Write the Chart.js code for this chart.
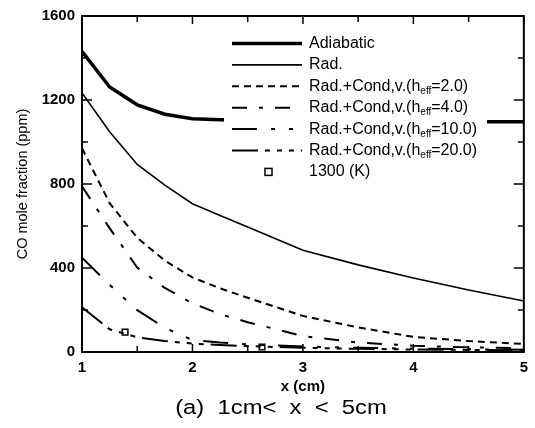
<!DOCTYPE html>
<html>
<head>
<meta charset="utf-8">
<script src="https://cdn.jsdelivr.net/npm/chart.js@4.4.1/dist/chart.umd.min.js"></script>
<style>
  html, body { margin: 0; padding: 0; background: #fff; }
  #wrap { position: relative; width: 535px; height: 428px; }
  #caption {
    position: absolute; left: 0; top: 396px; width: 562px;
    text-align: center; white-space: pre;
    font: 20px "Liberation Sans", Arial, sans-serif; color: #000;
    transform: scaleX(1.19); transform-origin: 281px 50%;
  }
</style>
</head>
<body>
<div id="wrap">
  <canvas id="chart" width="535" height="428"></canvas>
  <div id="caption">(a)  1cm&lt;  x  &lt;  5cm</div>
</div>
<script>
// x positions (cm) and CO mole fraction (ppm)
const xs = [1, 1.25, 1.5, 1.75, 2, 2.25, 2.5, 3, 3.5, 4, 4.5, 5];
const adiabatic = [1432, 1262, 1177, 1132, 1111, 1106, 1103, 1100, 1099, 1098, 1097, 1097];
const rad       = [1234, 1049, 893, 795, 706, 650, 595, 485, 415, 352, 295, 243];
const heff2     = [970, 709, 544, 435, 355, 303, 258, 172, 117, 72, 52, 38];
const heff4     = [789, 590, 402, 305, 232, 180, 142, 76, 45, 30, 22, 18];
const heff10    = [449, 320, 199, 115, 57, 45, 36, 26, 20, 16, 13, 11];
const heff20    = [213, 108, 70, 52, 40, 33, 28, 20, 15, 12, 10, 8];

// 1300 K points
const markX = [1.39, 2.63];
const markY = [95, 24];

const yTicks = [0, 400, 800, 1200, 1600];
const xTicks = [1, 2, 3, 4, 5];

const labels = [
  'Adiabatic',
  'Rad.',
  'Rad.+Cond,v.(h_eff=2.0)',
  'Rad.+Cond,v.(h_eff=4.0)',
  'Rad.+Cond,v.(h_eff=10.0)',
  'Rad.+Cond,v.(h_eff=20.0)',
  '1300 (K)'
];

const FONT = '"Liberation Sans", Arial, sans-serif';
Chart.defaults.font.family = FONT;
Chart.defaults.color = '#000';

const pts = arr => xs.map((x, i) => ({ x: x, y: arr[i] }));

function lineSet(label, arr, width, dash) {
  return {
    label: label,
    data: pts(arr),
    borderColor: '#000',
    borderWidth: width,
    borderDash: dash,
    pointRadius: 0,
    tension: 0,
    fill: false,
    showLine: true
  };
}

// legend drawn inside the plot, white box hides what is behind it
const boxLegend = {
  id: 'boxLegend',
  afterDatasetsDraw(chart) {
    const ctx = chart.ctx;
    const a = chart.chartArea;
    const x0 = a.left + 142;
    ctx.save();
    ctx.fillStyle = '#fff';
    ctx.fillRect(x0, 31, 263, 153);
    chart.data.datasets.forEach((ds, i) => {
      const y = 43.5 + i * 21.4;
      ctx.strokeStyle = '#000';
      if (ds.showLine) {
        ctx.lineWidth = ds.borderWidth;
        ctx.setLineDash(ds.borderDash || []);
        ctx.beginPath();
        ctx.moveTo(x0 + 8, y);
        ctx.lineTo(x0 + 78, y);
        ctx.stroke();
      } else {
        ctx.setLineDash([]);
        ctx.lineWidth = 1.5;
        ctx.fillStyle = '#fff';
        ctx.fillRect(x0 + 41, y - 3.5, 7, 7);
        ctx.strokeRect(x0 + 41, y - 3.5, 7, 7);
      }
      ctx.fillStyle = '#000';
      ctx.textBaseline = 'middle';
      const parts = ds.label.split('_eff');
      let tx = x0 + 85;
      ctx.font = '16px ' + FONT;
      ctx.fillText(parts[0], tx, y);
      tx += ctx.measureText(parts[0]).width;
      if (parts.length > 1) {
        ctx.font = '10px ' + FONT;
        ctx.fillText('eff', tx, y + 5);
        tx += ctx.measureText('eff').width;
        ctx.font = '16px ' + FONT;
        ctx.fillText(parts[1], tx, y);
      }
    });
    ctx.restore();
  }
};

// frame with inward tick marks on all four sides
const frameTicks = {
  id: 'frameTicks',
  afterDraw(chart) {
    const ctx = chart.ctx;
    const a = chart.chartArea;
    const sx = chart.scales.x, sy = chart.scales.y;
    ctx.save();
    ctx.strokeStyle = '#000';
    ctx.setLineDash([]);
    ctx.lineWidth = 1.5;
    ctx.beginPath();
    sy.ticks.forEach(t => {
      const p = sy.getPixelForValue(t.value);
      const len = yTicks.includes(t.value) ? 10 : 6;
      ctx.moveTo(a.left, p); ctx.lineTo(a.left + len, p);
      ctx.moveTo(a.right, p); ctx.lineTo(a.right - len, p);
    });
    sx.ticks.forEach(t => {
      const p = sx.getPixelForValue(t.value);
      const len = xTicks.includes(t.value) ? 8 : 6;
      ctx.moveTo(p, a.bottom); ctx.lineTo(p, a.bottom - len);
      ctx.moveTo(p, a.top); ctx.lineTo(p, a.top + len);
    });
    ctx.stroke();
    ctx.lineWidth = 2;
    ctx.strokeRect(a.left, a.top, a.right - a.left, a.bottom - a.top);
    ctx.restore();
  }
};

new Chart(document.getElementById('chart'), {
  type: 'scatter',
  data: {
    datasets: [
      lineSet(labels[0], adiabatic, 3.5, []),
      lineSet(labels[1], rad, 1.6, []),
      lineSet(labels[2], heff2, 2, [7, 5]),
      lineSet(labels[3], heff4, 2, [15, 12, 4, 12]),
      lineSet(labels[4], heff10, 2, [25, 14, 4, 14, 4, 14]),
      lineSet(labels[5], heff20, 2, [26, 7, 5, 7, 5, 7, 5, 7]),
      {
        label: labels[6],
        data: markX.map((x, i) => ({ x: x, y: markY[i] })),
        showLine: false,
        pointStyle: 'rect',
        pointRadius: 4,
        borderWidth: 1.5,
        borderColor: '#000',
        backgroundColor: '#fff'
      }
    ]
  },
  options: {
    responsive: false,
    animation: false,
    devicePixelRatio: 1,
    layout: { padding: { top: 14, right: 11, left: 0, bottom: 0 } },
    plugins: {
      legend: { display: false },
      tooltip: { enabled: false }
    },
    scales: {
      x: {
        type: 'linear',
        min: 1, max: 5,
        grid: { display: false, drawTicks: false },
        border: { display: false },
        ticks: {
          stepSize: 0.5,
          padding: 7,
          font: { size: 15, weight: 'bold' },
          maxRotation: 0,
          autoSkip: false,
          callback: v => xTicks.includes(v) ? String(v) : ''
        },
        title: {
          display: true,
          text: 'x (cm)',
          font: { size: 15, weight: 'bold' },
          padding: { top: 0, bottom: 32 }
        },
        afterFit: s => { s.height = 76; }
      },
      y: {
        min: 0, max: 1600,
        grid: { display: false, drawTicks: false },
        border: { display: false },
        ticks: {
          stepSize: 200,
          padding: 7,
          font: { size: 15, weight: 'bold' },
          autoSkip: false,
          callback: v => yTicks.includes(v) ? String(v) : ''
        },
        title: {
          display: true,
          text: 'CO mole fraction (ppm)',
          font: { size: 14.5 },
          padding: { top: 14, bottom: 0 }
        },
        afterFit: s => { s.width = 82; }
      }
    }
  },
  plugins: [boxLegend, frameTicks]
});
</script>
</body>
</html>
